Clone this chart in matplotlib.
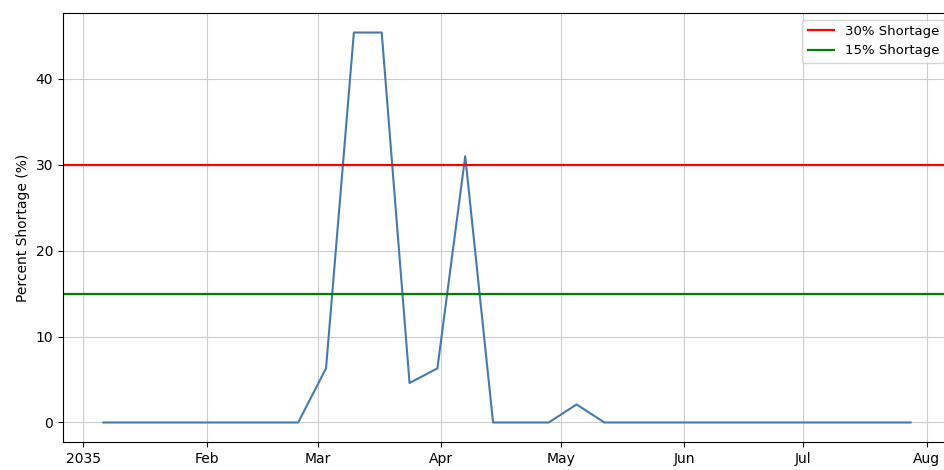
import matplotlib
matplotlib.use('Agg')
import matplotlib.pyplot as plt
import matplotlib.dates as mdates
import pandas as pd

# weekly shortage series
dates = pd.date_range('2035-01-06', periods=30, freq='7D')
shortage = [0, 0, 0, 0, 0, 0, 0, 0, 6.3, 45.4,
            45.4, 4.6, 6.3, 31.0, 0, 0, 0, 2.1, 0, 0,
            0, 0, 0, 0, 0, 0, 0, 0, 0, 0]
levels = [30, 15]
level_labels = ['30% Shortage', '15% Shortage']
level_colors = ['red', 'green']

fig = plt.figure(figsize=(9.44, 4.70), dpi=100)
ax = fig.add_axes([0.0667, 0.0596, 0.9407, 0.9127])

ax.plot(dates, shortage, color='#4679ad', linewidth=1.5)
for lvl, lab, col in zip(levels, level_labels, level_colors):
    ax.axhline(lvl, color=col, linewidth=1.6, label=lab)

ax.xaxis.set_major_locator(mdates.MonthLocator())
ax.xaxis.set_major_formatter(mdates.ConciseDateFormatter(ax.xaxis.get_major_locator()))
ax.set_yticks([0, 10, 20, 30, 40])
ax.tick_params(labelsize=10)
ax.set_ylabel('Percent Shortage (%)', fontsize=10)
ax.grid(True, color='#cccccc', linewidth=0.8)
ax.legend(loc='upper right', fontsize=9.5)

fig.savefig('out.png', dpi=100)
